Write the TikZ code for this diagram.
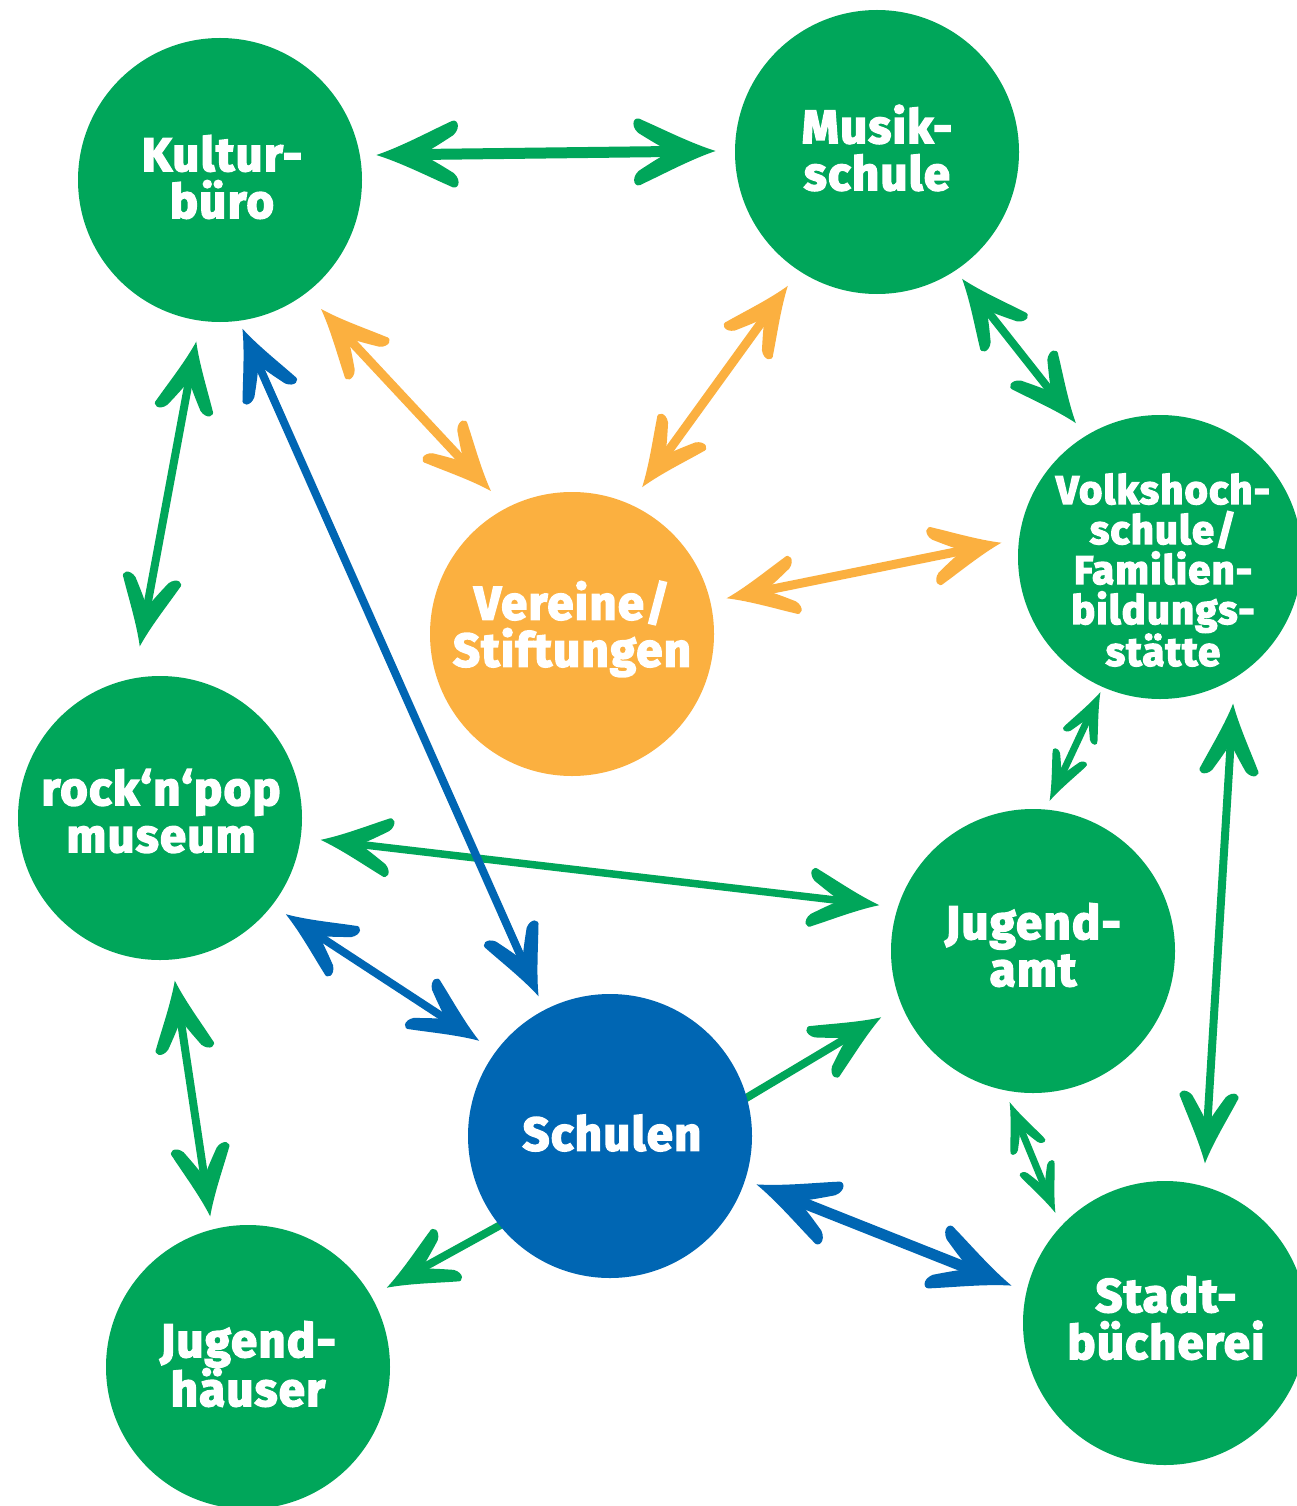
\documentclass[tikz,border=0pt]{standalone}
\usepackage{fontspec}
\newfontfamily\labfont{Fira Sans}[BoldFeatures={FakeBold=3.5,LetterSpace=3}]
\usetikzlibrary{arrows.meta,calc}
\definecolor{gr}{RGB}{0,166,90}
\definecolor{og}{RGB}{251,176,64}
\definecolor{bl}{RGB}{0,102,179}
\pgfdeclarelayer{bg}
\pgfsetlayers{bg,main}
\pgfdeclarearrow{
  name=Hand,
  parameters={\the\pgfarrowlength,\the\pgfarrowwidth},
  setup code={
    \pgfarrowssettipend{0pt}
    \pgfarrowssetlineend{-0.48\pgfarrowlength}
    \pgfarrowssetbackend{-\pgfarrowlength}
    \pgfarrowssetvisualbackend{-0.55\pgfarrowlength}
    \pgfarrowssavethe\pgfarrowlength
    \pgfarrowssavethe\pgfarrowwidth
  },
  drawing code={
    \pgfpathmoveto{\pgfpoint{0.02\pgfarrowlength}{0pt}}
    \pgfpathcurveto{\pgfpoint{-0.3\pgfarrowlength}{0.12\pgfarrowwidth}}{\pgfpoint{-0.65\pgfarrowlength}{0.33\pgfarrowwidth}}{\pgfpoint{-0.92\pgfarrowlength}{0.47\pgfarrowwidth}}
    \pgfpathcurveto{\pgfpoint{-1.02\pgfarrowlength}{0.55\pgfarrowwidth}}{\pgfpoint{-1.08\pgfarrowlength}{0.4\pgfarrowwidth}}{\pgfpoint{-0.97\pgfarrowlength}{0.28\pgfarrowwidth}}
    \pgfpathcurveto{\pgfpoint{-0.82\pgfarrowlength}{0.17\pgfarrowwidth}}{\pgfpoint{-0.68\pgfarrowlength}{0.07\pgfarrowwidth}}{\pgfpoint{-0.56\pgfarrowlength}{0pt}}
    \pgfpathcurveto{\pgfpoint{-0.68\pgfarrowlength}{-0.07\pgfarrowwidth}}{\pgfpoint{-0.82\pgfarrowlength}{-0.17\pgfarrowwidth}}{\pgfpoint{-0.97\pgfarrowlength}{-0.28\pgfarrowwidth}}
    \pgfpathcurveto{\pgfpoint{-1.08\pgfarrowlength}{-0.4\pgfarrowwidth}}{\pgfpoint{-1.02\pgfarrowlength}{-0.55\pgfarrowwidth}}{\pgfpoint{-0.92\pgfarrowlength}{-0.47\pgfarrowwidth}}
    \pgfpathcurveto{\pgfpoint{-0.65\pgfarrowlength}{-0.33\pgfarrowwidth}}{\pgfpoint{-0.3\pgfarrowlength}{-0.12\pgfarrowwidth}}{\pgfpoint{0.02\pgfarrowlength}{0pt}}
    \pgfpathclose
    \pgfusepathqfill
  },
  defaults={length=68pt,width=60pt}
}
\begin{document}
\begin{tikzpicture}[x=1pt,y=-1pt,
  circ/.style={circle,minimum size=284pt,inner sep=0pt,outer sep=0pt,draw=none},
  lab/.style={text=white,align=center,inner sep=0pt,font=\labfont\bfseries\fontsize{47}{47}\selectfont},
  labs/.style={text=white,align=center,inner sep=0pt,font=\labfont\bfseries\fontsize{40}{40}\selectfont},
  G/.style={color=gr,line width=#1},
  O/.style={color=og,line width=#1},
  B/.style={color=bl,line width=#1},
  bighead/.style={>={Hand[length=78pt,width=68pt]}},
  midhead/.style={>={Hand[length=68pt,width=60pt]}},
  smallhead/.style={>={Hand[length=48pt,width=38pt]}}]
\useasboundingbox (0,0) rectangle (1297,1506);
\clip (0,0) rectangle (1297,1506);

% circles
\node[circ,fill=gr] (kultur) at (220,180) {};
\node[circ,fill=gr] (musik) at (877,152) {};
\node[circ,fill=og] (vereine) at (572,634) {};
\node[circ,fill=gr] (volks) at (1160,557) {};
\node[circ,fill=gr] (rock) at (160,818) {};
\node[circ,fill=gr] (jamt) at (1033,951) {};
\node[circ,fill=bl] (schulen) at (610,1136) {};
\node[circ,fill=gr] (jhaus) at (248,1367) {};
\node[circ,fill=gr] (stadt) at (1165,1323) {};

% labels
\node[lab] (kultur-t) at (222,177) {Kultur-\\büro};
\node[lab] (musik-t) at (877,148) {Musik-\\schule};
\node[lab] (vereine-t) at (572,629) {Vereine/\\Stiftungen};
\node[labs] (volks-t) at (1163,570) {Volkshoch-\\schule/\\Familien-\\bildungs-\\stätte};
\node[lab] (rock-t) at (161,811) {rock‘n‘pop\\museum};
\node[lab] (jamt-t) at (1033,945) {Jugend-\\amt};
\node[lab] (schulen-t) at (612,1133) {Schulen};
\node[lab] (jhaus-t) at (248,1364) {Jugend-\\häuser};
\node[lab] (stadt-t) at (1166,1318) {Stadt-\\bücherei};

% connectors
\begin{pgfonlayer}{bg}
\fill[white] (0,0) rectangle (1297,1506);
\draw[G=11,bighead,<->] ($(kultur)+(158,-25)$) -- ($(musik)+(-163,-1)$);
\draw[G=8,midhead,<->] ($(kultur)+(-24,163)$) -- ($(rock)+(-20,-173)$);
\draw[G=7.5,midhead,<->] ($(rock)+(162,22)$) -- ($(jamt)+(-155,-46)$);
\draw[B=8,midhead,<->] ($(kultur)+(23,150)$) -- ($(schulen)+(-72,-141)$);
\draw[O=9,midhead,<->] ($(kultur)+(102,130)$) -- ($(vereine)+(-82,-144)$);
\draw[O=9,midhead,<->] ($(musik)+(-90,135)$) -- ($(vereine)+(71,-148)$);
\draw[G=8,midhead,<->] ($(musik)+(86,128)$) -- ($(volks)+(-85,-135)$);
\draw[O=9,midhead,<->] ($(vereine)+(156,-36)$) -- ($(volks)+(-160,-14)$);
\draw[B=8,midhead,<->] ($(rock)+(127,97)$) -- ($(schulen)+(-132,-96)$);
\draw[G=8,midhead,<->] ($(rock)+(15,164)$) -- ($(jhaus)+(-38,-152)$);
\draw[G=7,smallhead,<->] ($(volks)+(-60,136)$) -- ($(jamt)+(17,-151)$);
\draw[G=8,midhead,<->] ($(volks)+(73,148)$) -- ($(stadt)+(40,-161)$);
\draw[G=8,midhead,->] ($(schulen)+(86,-8)$) -- ($(jamt)+(-153,67)$);
\draw[G=8,midhead,->] ($(schulen)+(-66,65)$) -- ($(jhaus)+(140,-80)$);
\draw[B=11,bighead,<->] ($(schulen)+(148,49)$) -- ($(stadt)+(-155,-38)$);
\draw[G=7,smallhead,<->] ($(jamt)+(-23,152)$) -- ($(stadt)+(-110,-111)$);
\end{pgfonlayer}
\end{tikzpicture}
\end{document}
